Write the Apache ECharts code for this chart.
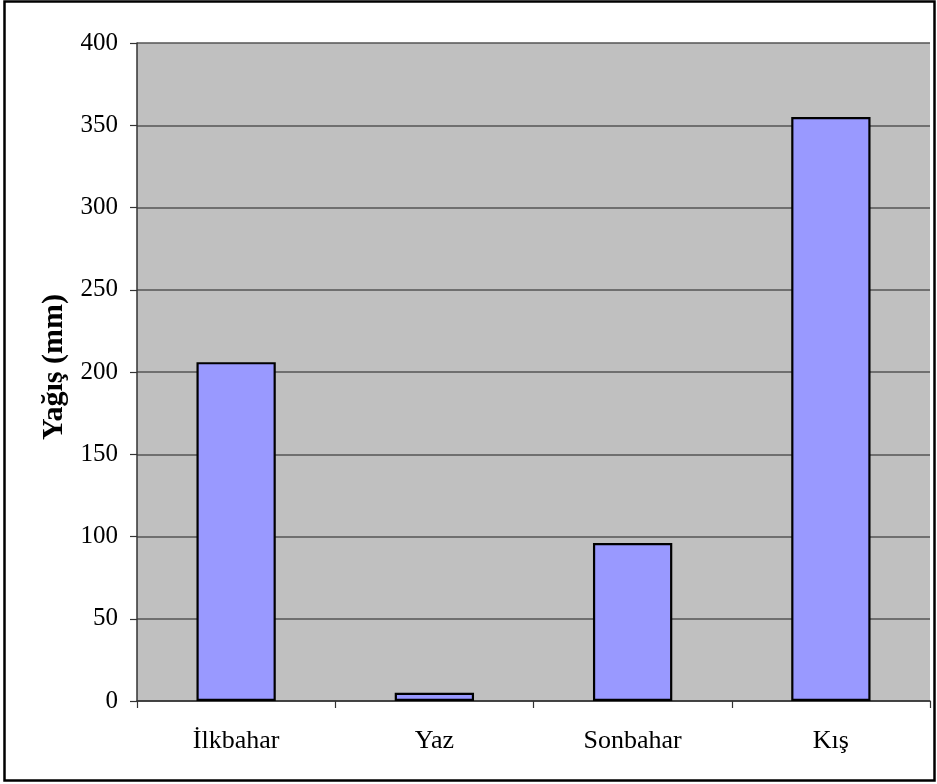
<!DOCTYPE html>
<html>
<head>
<meta charset="utf-8">
<script src="https://cdn.jsdelivr.net/npm/echarts@6/dist/echarts.min.js"></script>
<style>
  html, body { margin: 0; padding: 0; background: #fff; }
  #chart { width: 937px; height: 784px; }
</style>
</head>
<body>
<div id="chart"></div>
<script>
// Seasonal precipitation totals (mm)
const seasons = ['İlkbahar', 'Yaz', 'Sonbahar', 'Kış'];
const rainfall = [206, 5, 96, 355];
const yTitle = 'Yağış (mm)';

const serif = "'Liberation Serif', 'Times New Roman', serif";
const chart = echarts.init(document.getElementById('chart'), null, { renderer: 'canvas' });

chart.setOption({
  animation: false,
  backgroundColor: '#ffffff',
  grid: { left: 137, right: 7, top: 43, bottom: 83, show: true, backgroundColor: '#c0c0c0', borderWidth: 0 },
  xAxis: {
    type: 'category',
    data: seasons,
    axisLine: { lineStyle: { color: '#333', width: 1.5 } },
    axisTick: { show: true, length: 7, alignWithLabel: false, lineStyle: { color: '#333', width: 1.2 } },
    axisLabel: { color: '#000', fontFamily: serif, fontSize: 26, margin: 27 }
  },
  yAxis: {
    type: 'value',
    min: 0, max: 400, interval: 50,
    axisLine: { show: true, lineStyle: { color: '#333', width: 1.5 } },
    axisTick: { show: true, length: 7, lineStyle: { color: '#333', width: 1.2 } },
    axisLabel: { color: '#000', fontFamily: serif, fontSize: 25, margin: 19 },
    splitLine: { show: true, lineStyle: { color: '#555', width: 1.5 } }
  },
  series: [{
    type: 'bar',
    data: rainfall,
    barWidth: '40%',
    itemStyle: { color: '#9999ff', borderColor: '#000', borderWidth: 2.2 }
  }],
  graphic: [
    {
      type: 'text',
      x: 54, y: 367,
      rotation: Math.PI / 2,
      style: {
        text: yTitle, fill: '#000', font: 'bold 30px ' + serif,
        align: 'center', verticalAlign: 'middle'
      }
    },
    {
      type: 'rect',
      shape: { x: 4.5, y: 1.5, width: 930, height: 779 },
      style: { fill: 'none', stroke: '#000', lineWidth: 2.5 },
      silent: true
    }
  ]
});
</script>
</body>
</html>
